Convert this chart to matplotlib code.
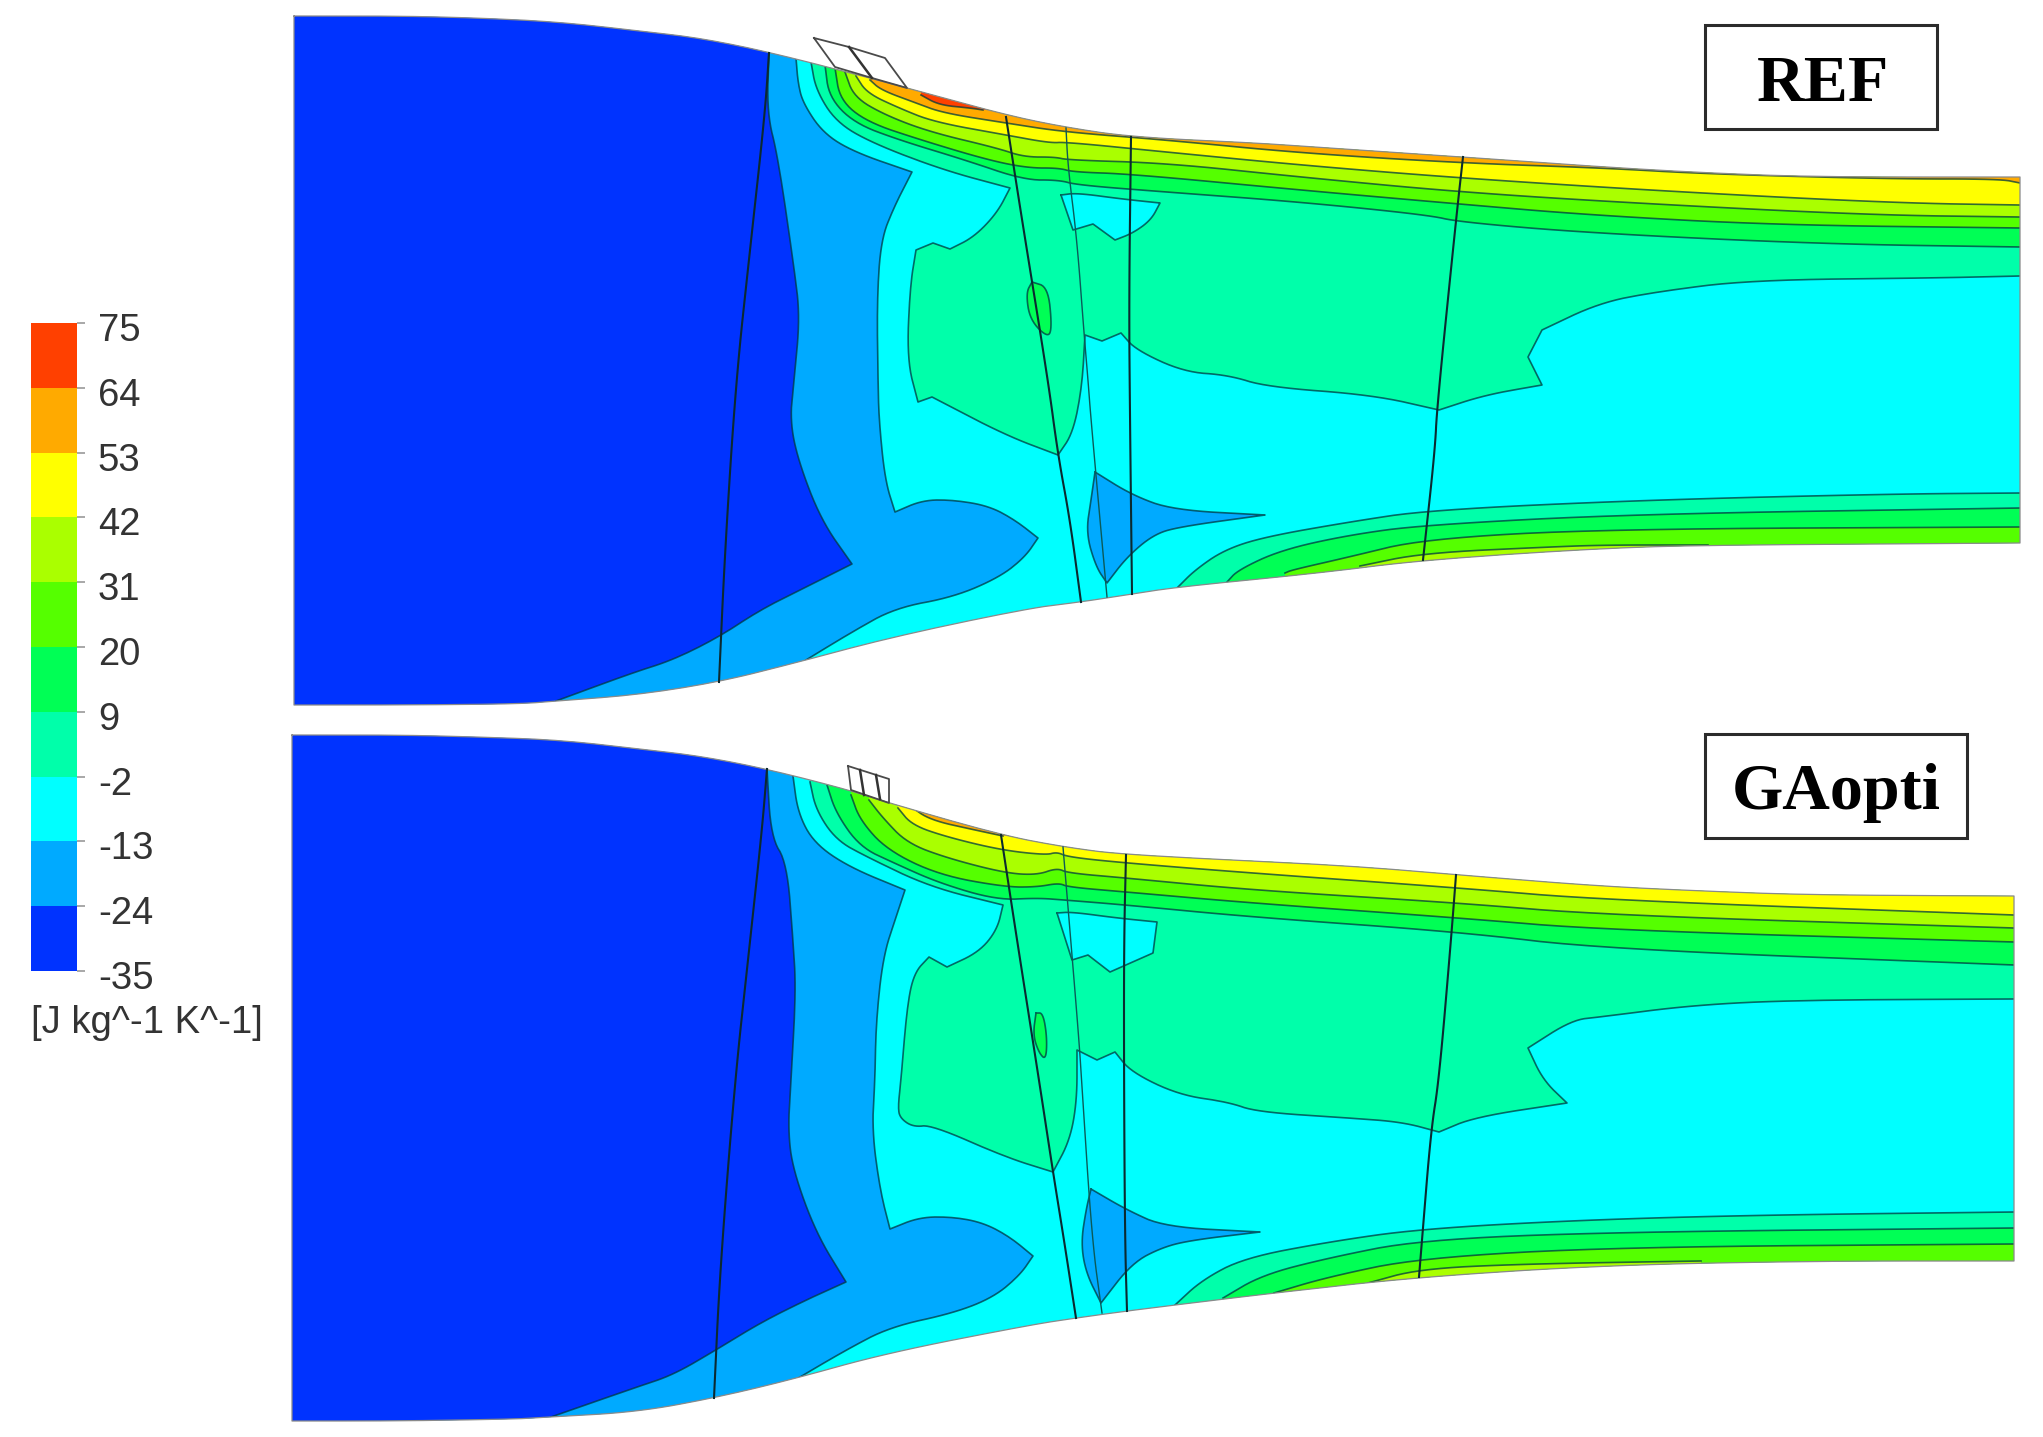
import matplotlib
matplotlib.use("Agg")
import matplotlib.pyplot as plt
from matplotlib.patches import Polygon, Rectangle
from matplotlib.colors import ListedColormap, BoundaryNorm
from matplotlib.transforms import ScaledTranslation
import numpy as np

# ---------- colour scale ----------
LEVELS = [-35, -24, -13, -2, 9, 20, 31, 42, 53, 64, 75]
LEVEL_LABELS = ['-35', '-24', '-13', '-2', '9', '20', '31', '42', '53', '64', '75']
LEVEL_COLORS = ['#0033ff', '#00aaff', '#00ffff', '#00ffaa', '#00ff55',
                '#55ff00', '#aaff00', '#ffff00', '#ffaa00', '#ff4000']
UNIT_LABEL = '[J kg^-1 K^-1]'
C_DARK, C_LIGHT, C_CYAN, C_TEAL, C_G9, C_G20, C_G31, C_Y42, C_O53, C_R64 = LEVEL_COLORS

# ---------- REF panel ----------
REF_TITLE = 'REF'
REF_TOP = [(294,16),(400,16),(480,18),(560,22),(640,31),(700,38),(769,52),(870,78),(907,88),(1006,115),
           (1064,127),(1131,137),(1256,143),(1300,146),(1463,157),(1603,167),(1708,173),(1817,177),(2020,177)]
REF_BOTTOM = [(294,705),(400,705),(520,704),(556,701),(637,695),(719,682),(795,663),(892,637),(1030,608),
              (1081,602),(1132,594),(1178,587),(1320,573),(1423,560),(1605,548),(1719,545),(2020,543)]
REF_DARK = [(769,52),(767,113),(778,157),(794,267),(800,317),(794,380),(790,420),(798,460),(821,520),(852,564),
            (806,587),(760,610),(719,637),(673,660),(632,673),(556,701)]
REF_LIGHT = [(796,58),(798,83),(803,103),(823,133),(854,152),(912,172),(894,207),(881,240),(877,300),(878,380),
             (879,420),(885,480),(895,512),(923,500),(954,500),(989,506),(1015,520),(1038,538),(1025,557),
             (1000,577),(954,597),(895,608),(852,632),(806,660)]
REF_TEAL = [(811,62),(816,90),(836,122),(872,143),(943,170),(1010,188),(997,213),(974,237),(950,249),(933,243),
            (916,250),(910,287),(907,360),(918,402),(932,397),(1005,435),(1058,455),(1073,433),(1082,387),
            (1085,335),(1102,341),(1121,333),(1136,350),(1184,372),(1228,375),(1267,387),(1373,395),(1439,410),
            (1485,395),(1542,385),(1528,357),(1542,330),(1599,303),(1655,292),(1750,280),(1935,278),(2020,276)]
REF_POCKET = [(1061,195),(1073,230),(1093,224),(1115,240),(1133,233),(1151,220),(1160,203),(1122,199),(1077,193)]
REF_BLOB = [(1032,282),(1026,293),(1030,320),(1048,338),(1052,327),(1048,287)]
REF_WEDGE = [(1095,472),(1132,495),(1173,510),(1265,515),(1178,527),(1153,535),(1127,557),(1107,583),(1096,567),
             (1086,533),(1091,500)]
REF_L9 = [(825,65),(829,97),(854,123),(899,140),(965,160),(1024,180),(1059,180),(1077,185),(1166,192),(1300,202),
          (1428,215),(1459,222),(1589,233),(1821,244),(2020,247)]
REF_L20 = [(835,68),(840,100),(867,122),(921,140),(988,160),(1028,168),(1059,168),(1073,172),(1131,174),(1300,190),
           (1459,204),(1589,215),(1774,225),(2020,228)]
REF_L31 = [(845,72),(854,97),(885,115),(930,132),(997,148),(1024,157),(1055,157),(1068,160),(1166,163),(1300,177),
           (1459,192),(1632,203),(1869,215),(2020,217)]
REF_L42 = [(856,76),(867,93),(899,108),(934,122),(1006,135),(1050,143),(1066,142),(1166,152),(1300,165),(1459,178),
           (1679,192),(1897,203),(2020,205)]
REF_L53 = [(870,80),(881,90),(916,103),(943,113),(1006,123),(1064,132),(1166,140),(1300,153),(1461,163),(1603,168),
           (1708,174),(1892,179),(2000,179),(2020,183)]
REF_L64 = [(921,95),(939,105),(970,108),(983,110)]
REF_LOW_TEAL = [(1178,587),(1195,570),(1224,550),(1264,537),(1349,522),(1429,510),(1645,500),(1890,494),(2020,493)]
REF_LOW_G9 = [(1227,582),(1238,570),(1281,550),(1349,535),(1423,525),(1634,514),(2020,508)]
REF_LOW_G20 = [(1285,573),(1292,570),(1349,557),(1423,539),(1605,529),(2020,527)]
REF_LOW_G31 = [(1360,566),(1423,553),(1549,547),(1605,545),(1708,545)]
REF_ROW1 = [(769,53),(765,113),(750,250),(736,380),(725,550),(719,682)]
REF_ROW2 = [(1006,117),(1022,220),(1048,380),(1058,455),(1070,520),(1081,602)]
REF_ROW3 = [(1066,128),(1068,167),(1077,240),(1084,333),(1088,380),(1091,420),(1107,597)]
REF_ROW4 = [(1131,137),(1129,300),(1130,420),(1132,594)]
REF_ROW5 = [(1463,157),(1456,220),(1437,407),(1435,450),(1423,560)]
REF_TIP = [(814,38),(849,47),(885,58),(907,88),(872,78),(835,67),(814,38)]
REF_TIP_DIVIDERS = [[(849,47),(872,78)]]
REF_CORNERS = {(912,172),(895,512),(1038,538),(852,564),(1010,188),(916,250),(918,402),(932,397),(1058,455),
               (1085,335),(1102,341),(1121,333),(1439,410),(1542,385),(1528,357),(1542,330),(1073,230),(1093,224),
               (1115,240),(1160,203),(1265,515),(1107,583),(933,243),(950,249)}
REF_BOX = (1705, 25, 232, 104)
REF_TEXT_POS = (1823, 101)

# ---------- GAopti panel ----------
GA_TITLE = 'GAopti'
GA_TOP = [(292,735),(400,735),(480,737),(560,740),(640,749),(700,756),(767,769),(849,790),(889,803),(1001,835),
          (1064,847),(1126,855),(1340,865),(1460,875),(1597,886),(1701,891),(1810,895),(2014,896)]
GA_BOTTOM = [(292,1421),(400,1421),(520,1419),(551,1417),(637,1412),(714,1398),(790,1380),(887,1353),(1030,1325),
             (1076,1318),(1127,1311),(1175,1305),(1274,1293),(1419,1277),(1611,1265),(1822,1261),(2014,1261)]
GA_DARK = [(767,769),(771,837),(787,863),(793,940),(796,990),(791,1080),(788,1130),(793,1170),(816,1233),(846,1282),
           (806,1300),(760,1323),(716,1350),(673,1375),(637,1387),(551,1417)]
GA_LIGHT = [(793,776),(798,813),(814,843),(849,867),(905,890),(896,917),(883,957),(876,1023),(875,1080),(872,1130),
            (880,1190),(890,1229),(920,1217),(954,1217),(984,1223),(1010,1237),(1033,1256),(1020,1275),(994,1297),
            (954,1313),(890,1327),(846,1350),(795,1380)]
GA_TEAL = [(810,782),(816,810),(836,840),(867,857),(930,887),(1003,905),(997,930),(979,952),(947,967),(929,957),
           (914,973),(907,1007),(901,1080),(898,1107),(900,1118),(913,1127),(932,1125),(1005,1157),(1053,1172),
           (1070,1140),(1077,1100),(1077,1050),(1097,1060),(1115,1052),(1131,1072),(1179,1095),(1228,1102),
           (1257,1112),(1349,1118),(1402,1122),(1439,1132),(1475,1117),(1567,1103),(1543,1080),(1528,1048),
           (1572,1020),(1600,1017),(1694,1005),(1800,1000),(2014,999)]
GA_POCKET = [(1057,913),(1072,960),(1088,955),(1110,972),(1153,953),(1157,922),(1117,918),(1072,912)]
GA_BLOB = [(1036,1013),(1033,1035),(1039,1053),(1046,1060),(1047,1037),(1043,1013)]
GA_WEDGE = [(1091,1189),(1127,1210),(1165,1227),(1260,1232),(1193,1240),(1163,1247),(1132,1263),(1101,1303),
            (1086,1273),(1081,1243),(1086,1210)]
GA_L9 = [(827,785),(836,813),(860,847),(894,863),(939,883),(997,900),(1037,898),(1064,900),(1126,905),(1251,917),
         (1460,932),(1603,949),(2014,965)]
GA_L20 = [(851,795),(860,820),(887,850),(939,875),(1005,887),(1037,887),(1059,883),(1068,887),(1126,892),(1251,903),
          (1460,918),(1603,930),(2014,942)]
GA_L31 = [(869,800),(883,818),(907,843),(947,858),(1005,873),(1037,875),(1057,868),(1068,873),(1126,878),(1251,890),
          (1460,903),(1603,915),(2014,928)]
GA_L42 = [(898,808),(912,825),(947,837),(1001,850),(1046,855),(1057,852),(1068,857),(1126,863),(1251,873),(1460,888),
          (1603,900),(2014,915)]
GA_L53 = [(910,806),(930,820),(975,830),(1003,836)]
GA_LOW_TEAL = [(1175,1305),(1202,1280),(1244,1258),(1328,1242),(1419,1229),(1581,1220),(1761,1215),(2014,1212)]
GA_LOW_G9 = [(1223,1298),(1262,1275),(1328,1258),(1419,1240),(1611,1232),(2014,1228)]
GA_LOW_G20 = [(1274,1293),(1328,1277),(1419,1258),(1617,1247),(2014,1244)]
GA_LOW_G31 = [(1368,1283),(1419,1269),(1521,1264),(1701,1261)]
GA_ROW1 = [(767,769),(762,830),(748,960),(735,1080),(720,1270),(714,1398)]
GA_ROW2 = [(1001,835),(1017,940),(1039,1080),(1053,1172),(1064,1240),(1076,1318)]
GA_ROW3 = [(1063,847),(1068,907),(1079,1040),(1082,1087),(1092,1240),(1102,1313)]
GA_ROW4 = [(1126,855),(1124,940),(1124,1080),(1125,1240),(1127,1311)]
GA_ROW5 = [(1456,875),(1451,940),(1439,1080),(1431,1130),(1422,1240),(1419,1277)]
GA_TIP = [(848,766),(889,779),(889,803),(851,790),(848,766)]
GA_TIP_DIVIDERS = [[(860,770),(864,795)], [(876,775),(880,799)]]
GA_CORNERS = {(905,890),(890,1229),(1033,1256),(846,1282),(1003,905),(929,957),(947,967),(1053,1172),(1077,1050),
              (1097,1060),(1115,1052),(1439,1132),(1567,1103),(1528,1048),(1072,960),(1088,955),(1110,972),
              (1153,953),(1157,922),(1260,1232),(1101,1303)}
GA_BOX = (1705, 734, 262, 104)
GA_TEXT_POS = (1836, 809)

# ---------- drawing ----------
W, H = 2043, 1437
fig = plt.figure(figsize=(W / 100, H / 100), dpi=100, facecolor='white')
ax = fig.add_axes([0, 0, 1, 1])
ax.set_xlim(0, W)
ax.set_ylim(H, 0)
ax.axis('off')

LINE = (0.0, 0.22, 0.25, 0.75)
FAR_TOP, FAR_BOTTOM, FAR_LEFT, FAR_RIGHT = -20, 1500, 100, 2200


def smooth(line, corners=frozenset(), n=3):
    """Corner-cutting so digitised polylines read as curves; listed corners and both ends stay sharp."""
    pts = []
    for p in line:
        pts.append(tuple(map(float, p)))
        if tuple(p) in corners:
            pts.append(tuple(map(float, p)))
    for _ in range(n):
        out = [pts[0]]
        for a, b in zip(pts[:-1], pts[1:]):
            if a == b:
                out += [a, b]
            else:
                out.append((0.75 * a[0] + 0.25 * b[0], 0.75 * a[1] + 0.25 * b[1]))
                out.append((0.25 * a[0] + 0.75 * b[0], 0.25 * a[1] + 0.75 * b[1]))
        out.append(pts[-1])
        pts = out
    return pts


def above(line):
    return [(line[0][0], FAR_TOP)] + line + [(FAR_RIGHT, line[-1][1]), (FAR_RIGHT, FAR_TOP)]


def below(line):
    return [(line[0][0], FAR_BOTTOM)] + line + [(FAR_RIGHT, line[-1][1]), (FAR_RIGHT, FAR_BOTTOM)]


def below_to_wall(line):
    return [(line[0][0], FAR_BOTTOM)] + line + [(line[-1][0], FAR_BOTTOM)]


def left_of(line):
    return [(line[0][0], FAR_TOP)] + line + [(line[-1][0], FAR_BOTTOM), (FAR_LEFT, FAR_BOTTOM), (FAR_LEFT, FAR_TOP)]


def own(line):
    return line


def draw_panel(top, bottom, layers, corners, rows, row3, tip, dividers, box, title, text_pos):
    top_s = smooth(top)
    bottom_s = smooth(bottom)
    channel = Polygon(top_s + bottom_s[::-1], closed=True, facecolor=C_CYAN, edgecolor='none', zorder=1)
    ax.add_patch(channel)
    z = 2
    for line, close, colour in layers:
        pts = line + line[:1] if close is own else line
        s = smooth(pts, corners)
        p = Polygon(close(s), closed=True, facecolor=colour, edgecolor='none', zorder=z)
        ax.add_patch(p)
        p.set_clip_path(channel)
        xs, ys = zip(*s)
        ln, = ax.plot(xs, ys, color=LINE, lw=1.2, zorder=z + 0.5, solid_joinstyle='round')
        ln.set_clip_path(channel)
        z += 1
    for row in rows:
        xs, ys = zip(*smooth(row))
        ax.plot(xs, ys, color='#0b2a30', lw=1.5, zorder=40)
    xs, ys = zip(*smooth(row3))
    ax.plot(xs, ys, color='#0b5a58', lw=1.0, zorder=40)
    # walls and outlet
    outline = top_s + bottom_s[::-1] + top_s[:1]
    xs, ys = zip(*outline)
    ax.plot(xs, ys, color='#8a8a8a', lw=0.9, zorder=39)
    # tip-gap sketch
    xs, ys = zip(*tip)
    ax.plot(xs, ys, color='#4a4a4a', lw=1.3, zorder=41)
    for d in dividers:
        xs, ys = zip(*d)
        ax.plot(xs, ys, color='#333333', lw=1.8, zorder=41)
    # label box
    ax.add_patch(Rectangle(box[:2], box[2], box[3], facecolor='white', edgecolor='#2b2b2b', lw=2.2, zorder=50))
    ax.text(text_pos[0], text_pos[1], title, ha='center', va='baseline', family='Liberation Serif',
            weight='bold', fontsize=47.5, color='black', zorder=51)


ref_layers = [
    (REF_LIGHT, left_of, C_LIGHT),
    (REF_DARK, left_of, C_DARK),
    (REF_TEAL, above, C_TEAL),
    (REF_POCKET, own, C_CYAN),
    (REF_BLOB, own, C_G9),
    (REF_WEDGE, own, C_LIGHT),
    (REF_L9, above, C_G9),
    (REF_L20, above, C_G20),
    (REF_L31, above, C_G31),
    (REF_L42, above, C_Y42),
    (REF_L53, above, C_O53),
    (REF_L64, above, C_R64),
    (REF_LOW_TEAL, below, C_TEAL),
    (REF_LOW_G9, below, C_G9),
    (REF_LOW_G20, below, C_G20),
    (REF_LOW_G31, below_to_wall, C_G31),
]
draw_panel(REF_TOP, REF_BOTTOM, ref_layers, REF_CORNERS, [REF_ROW1, REF_ROW2, REF_ROW4, REF_ROW5], REF_ROW3,
           REF_TIP, REF_TIP_DIVIDERS, REF_BOX, REF_TITLE, REF_TEXT_POS)

ga_layers = [
    (GA_LIGHT, left_of, C_LIGHT),
    (GA_DARK, left_of, C_DARK),
    (GA_TEAL, above, C_TEAL),
    (GA_POCKET, own, C_CYAN),
    (GA_BLOB, own, C_G9),
    (GA_WEDGE, own, C_LIGHT),
    (GA_L9, above, C_G9),
    (GA_L20, above, C_G20),
    (GA_L31, above, C_G31),
    (GA_L42, above, C_Y42),
    (GA_L53, above, C_O53),
    (GA_LOW_TEAL, below, C_TEAL),
    (GA_LOW_G9, below, C_G9),
    (GA_LOW_G20, below, C_G20),
    (GA_LOW_G31, below_to_wall, C_G31),
]
draw_panel(GA_TOP, GA_BOTTOM, ga_layers, GA_CORNERS, [GA_ROW1, GA_ROW2, GA_ROW4, GA_ROW5], GA_ROW3,
           GA_TIP, GA_TIP_DIVIDERS, GA_BOX, GA_TITLE, GA_TEXT_POS)

# ---------- colour bar ----------
cax = fig.add_axes([31 / W, 1 - 971 / H, 46 / W, 648 / H])
cmap = ListedColormap(LEVEL_COLORS)
norm = BoundaryNorm(LEVELS, cmap.N)
cax.pcolormesh([0, 1], LEVELS, np.array(LEVELS[:-1], dtype=float).reshape(-1, 1) + 1, cmap=cmap, norm=norm)
cax.set_xticks([])
cax.yaxis.tick_right()
cax.set_yticks(LEVELS)
cax.set_yticklabels(LEVEL_LABELS, family='Liberation Sans', fontsize=27.5, color='#333333')
cax.tick_params(axis='y', length=5.5, width=1.2, color='#999999', pad=9.5)
for s in cax.spines.values():
    s.set_visible(False)
shift = ScaledTranslation(0, -4 / 100, fig.dpi_scale_trans)
for lab in cax.get_yticklabels():
    lab.set_transform(lab.get_transform() + shift)
ax.text(31, 1023, UNIT_LABEL, ha='left', va='center', family='Liberation Sans', fontsize=27.5, color='#333333')

fig.savefig('out.png', dpi=100, facecolor='white')
